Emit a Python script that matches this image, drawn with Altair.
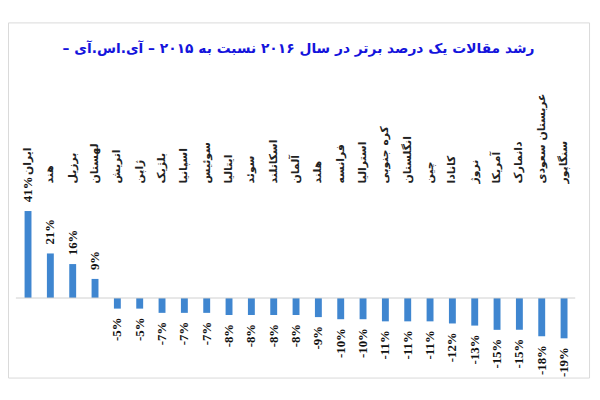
import altair as alt
import pandas as pd

countries = ["ایران", "هند", "برزیل", "لهستان", "اتریش", "ژاپن", "بلژیک", "اسپانیا",
             "سوئیس", "ایتالیا", "سوئد", "اسکاتلند", "آلمان", "هلند", "فرانسه", "استرالیا",
             "کره جنوبی", "انگلستان", "چین", "کانادا", "نروژ", "آمریکا", "دانمارک",
             "عربستان سعودی", "سنگاپور"]
growth = [41, 21, 16, 9, -5, -5, -7, -7, -7, -8, -8, -8, -8, -9, -10, -10, -11, -11,
          -11, -12, -13, -15, -15, -18, -19]
title_text = "رشد مقالات یک درصد برتر در سال ۲۰۱۶ نسبت به ۲۰۱۵ – آی.اس.آی –\u200f"

df = pd.DataFrame({"country": countries, "growth": growth})

yscale = alt.Scale(domain=[-37.5, 129.9], nice=False, zero=True)
x = alt.X("country:N", sort=countries, axis=None,
          scale=alt.Scale(paddingInner=0.691, paddingOuter=0.853, align=0.435))

base = alt.Chart(df).encode(x=x).transform_calculate(
    label="datum.growth + '%'",
    cy="max(54, datum.growth + 17)"
)

bars = base.mark_bar(color="#3f86d0").encode(
    y=alt.Y("growth:Q", scale=yscale, axis=None)
)

zero = alt.Chart(pd.DataFrame({"z": [0]})).mark_rule(color="#cfcfcf", strokeWidth=1).encode(
    y=alt.Y("z:Q", scale=yscale, axis=None),
    x=alt.value(8), x2=alt.value(575)
)

pos = base.transform_filter("datum.growth > 0").mark_text(
    angle=270, align="left", baseline="middle", dx=9,
    font="Liberation Serif", fontWeight="bold", fontSize=13, color="#111111"
).encode(y=alt.Y("growth:Q", scale=yscale, axis=None), text="label:N")

neg = base.transform_filter("datum.growth < 0").mark_text(
    angle=270, align="right", baseline="middle", dx=-9,
    font="Liberation Serif", fontWeight="bold", fontSize=13, color="#111111"
).encode(y=alt.Y("growth:Q", scale=yscale, axis=None), text="label:N")

names = base.mark_text(
    angle=270, align="left", baseline="middle",
    font="DejaVu Sans", fontWeight="bold", fontSize=11, color="#222222"
).encode(y=alt.Y("cy:Q", scale=yscale, axis=None), text="country:N")

chart = alt.layer(bars, zero, pos, neg, names).properties(
    width=589, height=360,
    title=alt.TitleParams(title_text, font="DejaVu Sans", fontWeight="bold",
                          fontSize=14, color="#1414dc", anchor="middle", dy=38),
    autosize=alt.AutoSizeParams(type="none"),
    padding={"left": 0, "top": 12, "right": 3, "bottom": 12}
).configure_view(stroke="#d9d9d9", strokeWidth=1)

chart.save("out.html", embed_options={"renderer": "svg", "actions": False})
